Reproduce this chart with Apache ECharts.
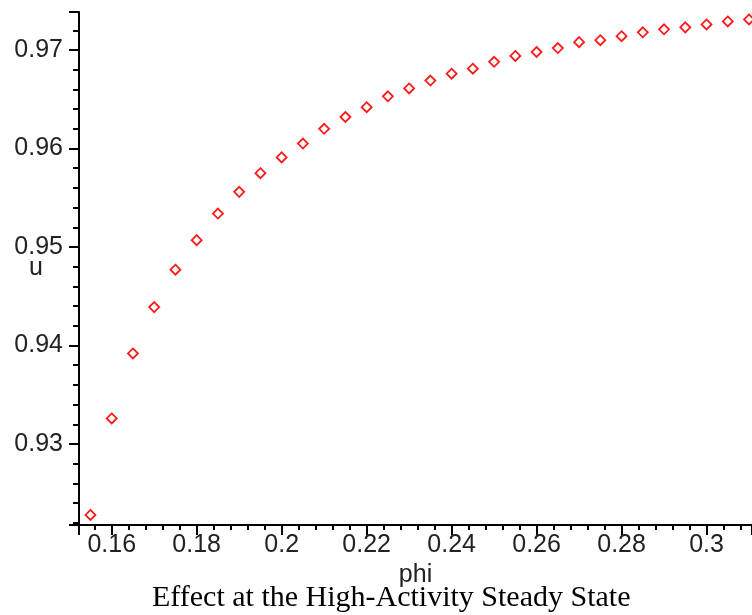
<!DOCTYPE html>
<html>
<head>
<meta charset="utf-8">
<script src="https://cdn.jsdelivr.net/npm/echarts@6/dist/echarts.min.js"></script>
<style>
  html, body { margin: 0; padding: 0; background: #fff; }
  #main { width: 752px; height: 615px; }
</style>
</head>
<body>
<div id="main"></div>
<script>
// phi values (x)
var phiValues = [
    0.155, 0.16, 0.165, 0.17, 0.175, 0.18, 0.185, 0.19, 0.195, 0.2,
    0.205, 0.21, 0.215, 0.22, 0.225, 0.23, 0.235, 0.24, 0.245, 0.25,
    0.255, 0.26, 0.265, 0.27, 0.275, 0.28, 0.285, 0.29, 0.295, 0.3,
    0.305, 0.31
];
// u values
var uValues = [
    0.9228, 0.9326, 0.9392, 0.9439, 0.9477, 0.9507, 0.9534, 0.9556, 0.9575, 0.9591,
    0.9605, 0.9620, 0.9632, 0.9642, 0.9653, 0.9661, 0.9669, 0.9676, 0.9681, 0.9688,
    0.9694, 0.9698, 0.9702, 0.9708, 0.9710, 0.9714, 0.9718, 0.9721, 0.9723, 0.9726,
    0.9729, 0.9731
];
var xRange = [0.1523, 0.3107];
var yRange = [0.92178, 0.97386];
var titleText = 'Effect at the High-Activity Steady State';

var chart = echarts.init(document.getElementById('main'));

var labelFont = {
    fontFamily: '"Liberation Sans", Arial, sans-serif',
    fontSize: 25,
    color: '#222'
};

var points = phiValues.map(function (p, i) {
    return [p, uValues[i]];
});

var option = {
    animation: false,
    backgroundColor: '#fff',
    title: {
        text: titleText,
        left: 147,
        top: 578,
        textStyle: {
            fontFamily: '"Liberation Serif", "Times New Roman", serif',
            fontSize: 30,
            fontWeight: 'normal',
            color: '#000'
        }
    },
    grid: {
        left: 79,
        right: 0,
        top: 12,
        bottom: 90,
        containLabel: false,
        outerBoundsMode: 'none'
    },
    xAxis: {
        type: 'value',
        min: xRange[0],
        max: xRange[1],
        minInterval: 0.02,
        maxInterval: 0.02,
        splitNumber: 8,
        name: 'phi',
        nameLocation: 'middle',
        nameGap: 38,
        nameMoveOverlap: false,
        nameTextStyle: labelFont,
        axisLine: { lineStyle: { color: '#000', width: 2 } },
        axisTick: { show: true, length: 10, lineStyle: { color: '#000', width: 2 } },
        minorTick: { show: true, splitNumber: 5, length: 5, lineStyle: { color: '#000', width: 2 } },
        splitLine: { show: false },
        axisLabel: {
            fontFamily: labelFont.fontFamily,
            fontSize: labelFont.fontSize,
            color: labelFont.color,
            margin: 8,
            showMinLabel: false,
            showMaxLabel: false
        }
    },
    yAxis: {
        type: 'value',
        min: yRange[0],
        max: yRange[1],
        minInterval: 0.01,
        maxInterval: 0.01,
        splitNumber: 5,
        name: 'u',
        nameLocation: 'middle',
        nameRotate: 0,
        nameGap: 36,
        nameMoveOverlap: false,
        nameTextStyle: Object.assign({}, labelFont, { padding: [14, 0, 0, 0] }),
        axisLine: { show: true, lineStyle: { color: '#000', width: 2 } },
        axisTick: { show: true, length: 10, lineStyle: { color: '#000', width: 2 } },
        minorTick: { show: true, splitNumber: 5, length: 6, lineStyle: { color: '#000', width: 2 } },
        splitLine: { show: false },
        axisLabel: {
            fontFamily: labelFont.fontFamily,
            fontSize: labelFont.fontSize,
            color: labelFont.color,
            margin: 16,
            showMinLabel: false,
            showMaxLabel: false
        }
    },
    series: [{
        type: 'scatter',
        data: points,
        symbol: 'diamond',
        symbolSize: 10,
        itemStyle: {
            color: '#fff',
            borderColor: '#ff1a1a',
            borderWidth: 1.8,
            opacity: 1
        }
    }]
};

chart.setOption(option);
</script>
</body>
</html>
